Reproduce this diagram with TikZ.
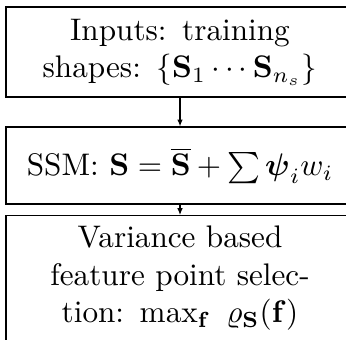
\documentclass[tikz,border=0pt]{standalone}
\usepackage{amsmath}
\usepackage{amssymb}
\usepackage{tikz}
\usetikzlibrary{positioning, arrows.meta}

\begin{document}
\begin{tikzpicture}[
  stage/.style={draw, minimum width=3.92cm, text width=3.45cm, align=center, font=\normalsize},
  arr/.style={->, >={Latex[length=2.2pt, width=1.8pt]}}
]
\useasboundingbox (0,0) rectangle (3.898,-3.830);

\node[stage, minimum height=1.014cm] (inputs) at (2.028,-0.586) {Inputs: training shapes: $\{\mathbf{S}_1\cdots\mathbf{S}_{n_s}\}$};
\node[stage, minimum height=0.868cm] (ssm) at (2.028,-1.865) {SSM: $\mathbf{S}=\overline{\mathbf{S}}+\sum\boldsymbol{\psi}_i w_i$};
\node[stage, anchor=north] (select) at (2.028,-2.423) {Variance based feature point selection: $\max_{\mathbf{f}}\ \varrho_{\mathbf{S}}(\mathbf{f})$};

\draw[arr] (inputs) -- (ssm);
\draw[arr] (ssm) -- (select);

\end{tikzpicture}
\end{document}
